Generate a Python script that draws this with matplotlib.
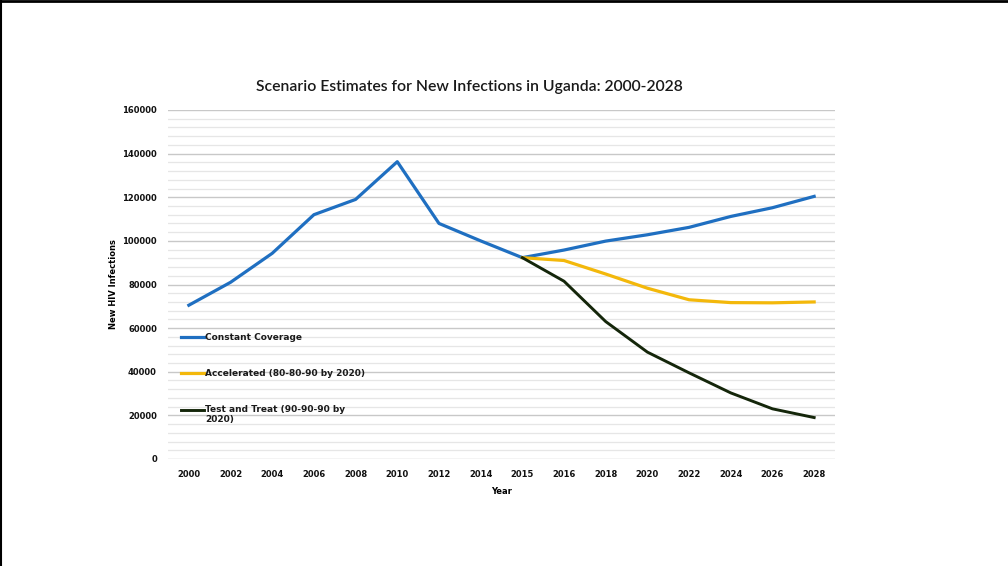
import matplotlib
matplotlib.use("Agg")
import numpy as np
import matplotlib.pyplot as plt
from matplotlib.lines import Line2D
from matplotlib.legend_handler import HandlerLine2D
from matplotlib.ticker import MultipleLocator

# Year categories (equally spaced on the axis)
years = ["2000", "2002", "2004", "2006", "2008", "2010", "2012", "2014",
         "2015", "2016", "2018", "2020", "2022", "2024", "2026", "2028"]

# Historical estimates followed by the constant-coverage projection
constant_coverage = [70500, 81000, 94300, 112000, 119000, 136300, 108000, 100000,
                     92300, 95800, 99900, 102800, 106200, 111200, 115200, 120400]

# Scenario projections start at 2015
accelerated_years = years[8:]
accelerated = [92300, 91000, 84800, 78300, 73000, 71700, 71600, 72000]

test_and_treat_years = years[8:]
test_and_treat = [92300, 81500, 63000, 49000, 39500, 30300, 23000, 19000]

series_labels = ["Constant Coverage",
                 "Accelerated (80-80-90 by 2020)",
                 "Test and Treat (90-90-90 by\n2020)"]

title = "Scenario Estimates for New Infections in Uganda: 2000-2028"

BLUE = "#1f6fc1"
GOLD = "#f3b80b"
DARK = "#14260a"


class TopAlignedLineHandler(HandlerLine2D):
    """Legend line aligned with the first line of a wrapped label."""

    def __init__(self, shift, **kw):
        super().__init__(**kw)
        self.shift = shift

    def create_artists(self, legend, orig_handle, xdescent, ydescent,
                       width, height, fontsize, trans):
        artists = super().create_artists(legend, orig_handle, xdescent, ydescent,
                                         width, height, fontsize, trans)
        for a in artists:
            a.set_ydata(np.asarray(a.get_ydata()) + self.shift)
        return artists


fig = plt.figure(figsize=(10.08, 5.66), dpi=100)
ax = fig.add_axes([168 / 1008, 1 - 459 / 566, (835 - 168) / 1008, (459 - 110) / 566])

x_all = list(range(len(years)))
x_proj = [years.index(y) for y in accelerated_years]
x_tt = [years.index(y) for y in test_and_treat_years]

ax.plot(x_all, constant_coverage, color=BLUE, lw=2.3, label=series_labels[0],
        solid_joinstyle="round", zorder=3)
ax.plot(x_proj, accelerated, color=GOLD, lw=2.3, label=series_labels[1],
        solid_joinstyle="round", zorder=3)
tt_line, = ax.plot(x_tt, test_and_treat, color=DARK, lw=2.1, label=series_labels[2],
                   solid_joinstyle="round", zorder=4)

ax.set_xlim(-0.5, len(years) - 0.5)
ax.set_ylim(0, 160000)
ax.set_xticks(x_all)
ax.set_xticklabels(years)
ax.yaxis.set_major_locator(MultipleLocator(20000))
ax.yaxis.set_minor_locator(MultipleLocator(4000))
ax.grid(True, which="major", axis="y", color="#c8c8c8", lw=1.0, zorder=0)
ax.grid(True, which="minor", axis="y", color="#e6e6e6", lw=0.9, zorder=0)
ax.tick_params(axis="both", which="both", length=0)
ax.tick_params(axis="x", pad=8)
ax.tick_params(axis="y", pad=8)
for lbl in ax.get_xticklabels() + ax.get_yticklabels():
    lbl.set_fontsize(6)
    lbl.set_fontweight("bold")
    lbl.set_color("#111111")
for side in ["top", "right", "left", "bottom"]:
    ax.spines[side].set_visible(False)

ax.set_xlabel("Year", fontsize=6, fontweight="bold", labelpad=6)
ax.set_ylabel("New HIV Infections", fontsize=6, fontweight="bold", labelpad=3)
fig.text(469 / 1008, 1 - 87 / 566, title, fontsize=11.3, family="Lato",
         fontweight="semibold", color="#1a1a1a", ha="center", va="center")

leg = ax.legend(loc="upper left", bbox_to_anchor=(0.014, 0.372), frameon=False,
                fontsize=6.5, handlelength=2.6, handletextpad=0.05,
                labelspacing=3.0, borderaxespad=0,
                handler_map={tt_line: TopAlignedLineHandler(3.9)})
for t in leg.get_texts():
    t.set_fontweight("bold")
    t.set_color("#1a1a1a")

# Page frame along the top and left edges
fig.add_artist(Line2D([0, 1], [0.998, 0.998], color="black", lw=2, transform=fig.transFigure))
fig.add_artist(Line2D([0.001, 0.001], [0, 1], color="black", lw=1.5, transform=fig.transFigure))

fig.savefig("out.png", dpi=100, facecolor="white")
